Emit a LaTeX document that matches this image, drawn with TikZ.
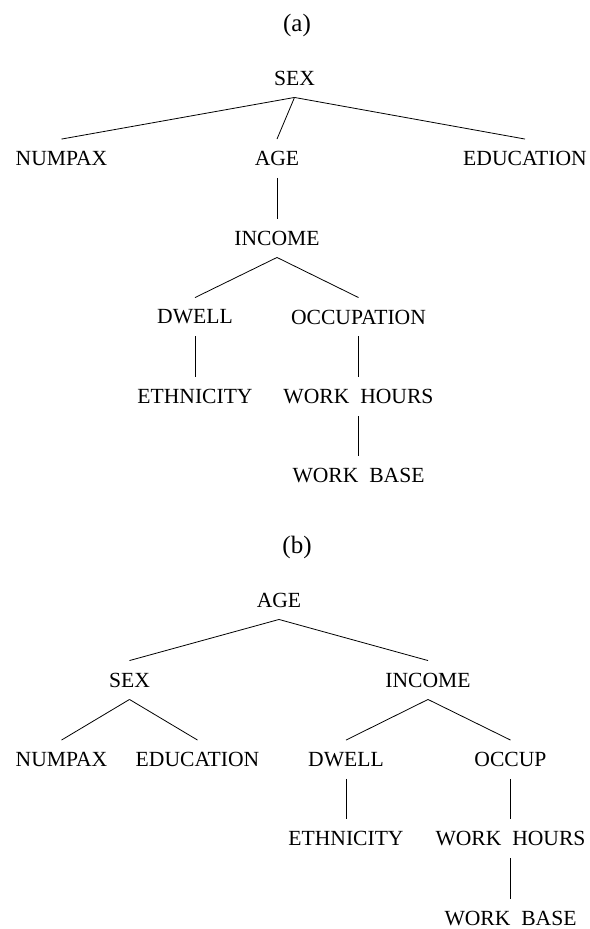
\documentclass[tikz,border=0pt]{standalone}
\usepackage{fontspec}
\setmainfont{Liberation Serif}
\newcommand{\wsp}{\hspace{0.5em}}
\begin{document}
\begin{tikzpicture}[x=1pt,y=-1pt,
  lbl/.style={font=\fontsize{21.6}{26}\selectfont, inner xsep=0pt, inner ysep=12pt},
  sublbl/.style={font=\fontsize{25}{30}\selectfont, inner sep=0pt},
  edge/.style={draw=black, line width=0.8pt}]
\useasboundingbox (0,0) rectangle (589,929);
% ---------- (a) ----------
\node[sublbl] (la) at (297,25) {(a)};
\node[lbl] (sexA) at (294.5,78) {SEX};
\node[lbl] (numA) at (61.5,158.5) {NUMPAX};
\node[lbl] (ageA) at (277,158.5) {AGE};
\node[lbl] (eduA) at (525,158.5) {EDUCATION};
\node[lbl] (incA) at (277,238) {INCOME};
\node[lbl] (dwA) at (195,317) {DWELL};
\node[lbl] (occA) at (358.5,317) {OCCUPATION};
\node[lbl] (ethA) at (195,396.5) {ETHNICITY};
\node[lbl] (whA) at (358.5,396.5) {WORK\wsp HOURS};
\node[lbl] (wbA) at (358.5,476) {WORK\wsp BASE};
\draw[edge] (sexA.south) -- (numA.north);
\draw[edge] (sexA.south) -- (ageA.north);
\draw[edge] (sexA.south) -- (eduA.north);
\draw[edge] (ageA.south) -- (incA.north);
\draw[edge] (incA.south) -- (dwA.north);
\draw[edge] (incA.south) -- (occA.north);
\draw[edge] (dwA.south) -- (ethA.north);
\draw[edge] (occA.south) -- (whA.north);
\draw[edge] (whA.south) -- (wbA.north);
% ---------- (b) ----------
\node[sublbl] (lb) at (297,547) {(b)};
\node[lbl] (ageB) at (279,600) {AGE};
\node[lbl] (sexB) at (129.5,680) {SEX};
\node[lbl] (incB) at (428,680) {INCOME};
\node[lbl] (numB) at (61.5,759.5) {NUMPAX};
\node[lbl] (eduB) at (197.5,759.5) {EDUCATION};
\node[lbl] (dwB) at (346,759.5) {DWELL};
\node[lbl] (occB) at (510.5,759.5) {OCCUP};
\node[lbl] (ethB) at (346,838.5) {ETHNICITY};
\node[lbl] (whB) at (510.5,838.5) {WORK\wsp HOURS};
\node[lbl] (wbB) at (510.5,918.5) {WORK\wsp BASE};
\draw[edge] (ageB.south) -- (sexB.north);
\draw[edge] (ageB.south) -- (incB.north);
\draw[edge] (sexB.south) -- (numB.north);
\draw[edge] (sexB.south) -- (eduB.north);
\draw[edge] (incB.south) -- (dwB.north);
\draw[edge] (incB.south) -- (occB.north);
\draw[edge] (dwB.south) -- (ethB.north);
\draw[edge] (occB.south) -- (whB.north);
\draw[edge] (whB.south) -- (wbB.north);
\end{tikzpicture}
\end{document}
